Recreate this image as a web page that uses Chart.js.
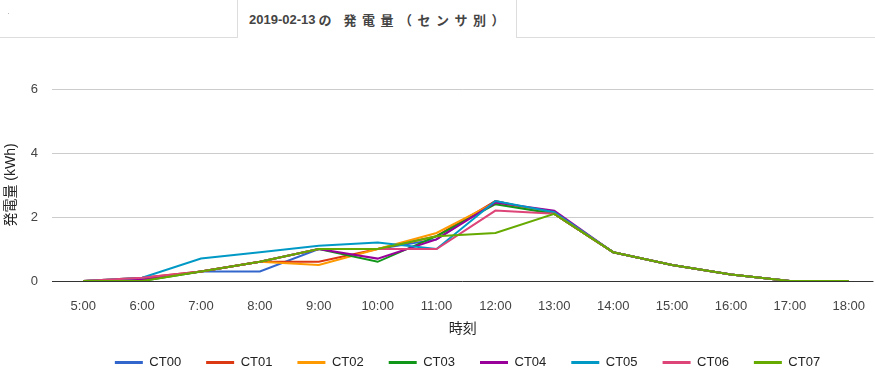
<!DOCTYPE html>
<html>
<head>
<meta charset="utf-8">
<script src="https://cdn.jsdelivr.net/npm/chart.js@4"></script>
<style>
  html, body { margin: 0; padding: 0; background: #fff; overflow: hidden; }
  #wrap { position: relative; width: 875px; height: 379px; }
  #rule { position: absolute; left: 0; top: 37px; width: 875px; height: 1px; background: #ddd; }
  #tab {
    position: absolute; left: 237px; top: 0; width: 280px; height: 38px;
    border-left: 1px solid #ddd; border-right: 1px solid #ddd; background: #fff;
    font: bold 13px "Liberation Sans", Arial, sans-serif; color: #444;
    display: flex; align-items: center; justify-content: center; box-sizing: border-box;
    white-space: nowrap;
  }
  #tab .jp { font-family: "Noto Sans CJK JP", sans-serif; font-weight: bold; }
  #tab .no { margin-left: 3px; }
  #tab .rest { margin-left: 12px; letter-spacing: 5.5px; margin-right: -5px; }
  #dot { position: absolute; left: 8px; top: 13px; width: 1px; height: 1px; background: #bbb; }
  canvas { position: absolute; left: 0; top: 0; }
</style>
</head>
<body>
<div id="wrap">
  <div id="rule"></div>
  <div id="dot"></div>
  <div id="tab"><span>2019-02-13</span><span class="jp no">の</span><span class="jp rest">発電量（センサ別）</span></div>
  <canvas id="chart" width="875" height="379"></canvas>
</div>
<script>
const times = ["5:00", "6:00", "7:00", "8:00", "9:00", "10:00", "11:00",
  "12:00", "13:00", "14:00", "15:00", "16:00", "17:00", "18:00"];
const yTicks = [0, 2, 4, 6];

const ct00 = [0, 0.05, 0.3, 0.3, 1.0, 1.0, 1.3, 2.5, 2.1, 0.9, 0.5, 0.2, 0, 0];
const ct01 = [0, 0.1, 0.3, 0.6, 0.6, 1.0, 1.4, 2.5, 2.1, 0.9, 0.5, 0.2, 0, 0];
const ct02 = [0, 0.05, 0.3, 0.6, 0.5, 1.0, 1.5, 2.45, 2.1, 0.9, 0.5, 0.2, 0, 0];
const ct03 = [0, 0, 0.3, 0.6, 1.0, 0.6, 1.4, 2.4, 2.1, 0.9, 0.5, 0.2, 0, 0];
const ct04 = [0, 0.05, 0.3, 0.6, 1.0, 0.7, 1.3, 2.45, 2.2, 0.9, 0.5, 0.2, 0, 0];
const ct05 = [0, 0.1, 0.7, 0.9, 1.1, 1.2, 1.0, 2.5, 2.15, 0.9, 0.5, 0.2, 0, 0];
const ct06 = [0, 0.1, 0.3, 0.6, 1.0, 1.0, 1.0, 2.2, 2.1, 0.9, 0.5, 0.2, 0, 0];
const ct07 = [0, 0, 0.3, 0.6, 1.0, 1.0, 1.4, 1.5, 2.1, 0.9, 0.5, 0.2, 0, 0];

const sensors = ["CT00", "CT01", "CT02", "CT03", "CT04", "CT05", "CT06", "CT07"];
const series = [ct00, ct01, ct02, ct03, ct04, ct05, ct06, ct07];
const colors = ["#3366cc", "#dc3912", "#ff9900", "#109618",
  "#990099", "#0099c6", "#dd4477", "#66aa00"];

const font = { family: "'Liberation Sans', Arial, sans-serif", size: 13 };
const titleFont = { family: "'Liberation Sans', Arial, 'Noto Sans CJK JP', sans-serif", size: 14 };

// shift the legend so it sits where the original one does
const legendShift = {
  id: "legendShift",
  afterLayout(chart) {
    chart.legend.left += 30;
    chart.legend.right += 30;
  }
};

new Chart(document.getElementById("chart"), {
  type: "line",
  data: {
    datasets: series.map((vals, i) => ({
      label: sensors[i],
      data: vals.map((v, j) => ({ x: j, y: v })),
      borderColor: colors[i],
      backgroundColor: colors[i],
      borderWidth: 2,
      pointRadius: 0,
      tension: 0,
      order: sensors.length - i
    }))
  },
  options: {
    responsive: false,
    animation: false,
    layout: { padding: { top: 89, left: 0, right: 0, bottom: 0 } },
    plugins: {
      legend: {
        position: "bottom",
        labels: {
          font: font,
          color: "#222",
          boxWidth: 28,
          boxHeight: 3,
          padding: 25,
          sort: (a, b) => a.datasetIndex - b.datasetIndex,
          generateLabels: (chart) =>
            Chart.defaults.plugins.legend.labels.generateLabels(chart)
              .map(item => Object.assign(item, { lineWidth: 0 }))
        }
      },
      tooltip: { enabled: false }
    },
    scales: {
      x: {
        type: "linear",
        min: -0.53,
        max: 13.42,
        afterBuildTicks: (scale) => { scale.ticks = times.map((t, i) => ({ value: i })); },
        afterFit: (scale) => { scale.height = 50; },
        grid: { display: false },
        border: { display: false },
        ticks: {
          font: font,
          color: "#444",
          padding: 10,
          maxRotation: 0,
          autoSkip: false,
          callback: (v) => times[v]
        },
        title: {
          display: true,
          text: "時刻",
          font: titleFont,
          color: "#222",
          padding: { top: 0, bottom: -7 }
        }
      },
      y: {
        min: 0,
        max: 6,
        afterBuildTicks: (scale) => { scale.ticks = yTicks.map(v => ({ value: v })); },
        afterFit: (scale) => { scale.width = 52; },
        border: { display: false },
        grid: {
          drawTicks: false,
          color: (ctx) => ctx.tick.value === 0 ? "#333" : "#ccc"
        },
        ticks: { font: font, color: "#444", padding: 14 },
        title: {
          display: true,
          text: "発電量 (kWh)",
          font: titleFont,
          color: "#222",
          padding: { top: 3, bottom: 0 }
        }
      }
    }
  },
  plugins: [legendShift]
});
</script>
</body>
</html>
